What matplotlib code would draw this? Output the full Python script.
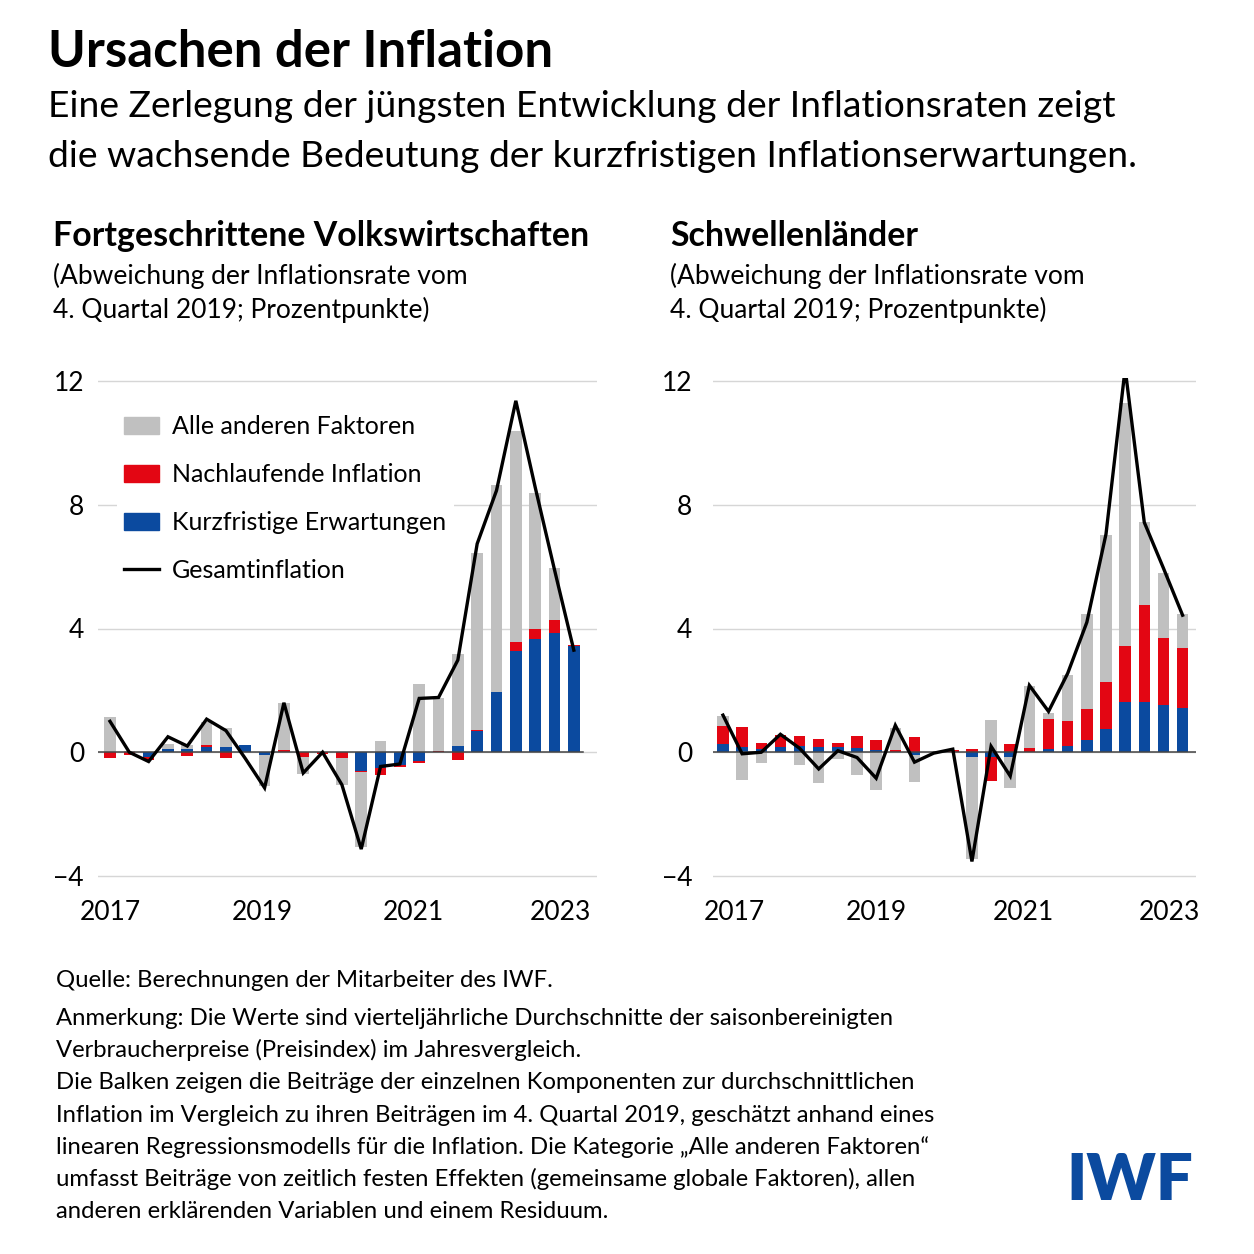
import numpy as np
import matplotlib.pyplot as plt
from matplotlib.patches import Patch
from matplotlib.lines import Line2D

plt.rcParams["font.family"] = ["Lato", "DejaVu Sans"]
plt.rcParams["axes.unicode_minus"] = True

# Quartale 2017Q1 .. 2023Q1
quarters = np.arange(25)
year_labels = ["2017", "2019", "2021", "2023"]
year_ticks_adv = [0.0, 7.9, 15.7, 23.3]
year_ticks_em = [0.6, 8.0, 15.7, 23.3]
y_ticks = [-4, 0, 4, 8, 12]

# Fortgeschrittene Volkswirtschaften
adv_other = [1.15, 0.05, 0.0, 0.15, 0.1, 0.74, 0.62, 0.0, -1.0, 1.5, -0.55, 0.0, -0.85,
             -2.4, 0.35, 0.0, 2.2, 1.7, 2.96, 5.73, 6.7, 6.85, 4.41, 1.69, 0.0]
adv_lagged = [-0.2, -0.1, -0.1, 0.0, -0.12, 0.05, -0.2, 0.0, 0.0, 0.08, -0.14, -0.05, -0.2,
              -0.05, -0.25, -0.09, -0.07, 0.04, -0.25, 0.03, 0.0, 0.27, 0.31, 0.43, 0.04]
adv_expect = [0.0, 0.0, -0.15, 0.12, 0.12, 0.18, 0.18, 0.22, -0.1, 0.0, 0.0, 0.0, 0.0,
              -0.6, -0.5, -0.4, -0.28, 0.0, 0.21, 0.69, 1.94, 3.28, 3.66, 3.84, 3.44]
adv_headline = [1.0, 0.0, -0.3, 0.5, 0.2, 1.07, 0.7, -0.2, -1.15, 1.6, -0.67, 0.0, -1.05,
                -3.13, -0.46, -0.38, 1.74, 1.77, 2.98, 6.74, 8.46, 11.36, 8.57, 5.9, 3.3]

# Schwellenländer
em_other = [0.33, -0.91, -0.35, 0.0, -0.4, -1.0, -0.21, -0.73, -1.23, 0.7, -0.86, 0.0, 0.0,
            -3.3, 1.04, -1.0, 2.0, 0.19, 1.47, 3.07, 4.75, 7.86, 2.68, 2.1, 1.1]
em_lagged = [0.58, 0.64, 0.2, 0.4, 0.32, 0.27, 0.15, 0.38, 0.32, 0.08, 0.5, 0.0, 0.07,
             0.1, -0.8, 0.27, 0.15, 0.95, 0.81, 0.99, 1.52, 1.83, 3.14, 2.17, 1.93]
em_expect = [0.27, 0.18, 0.1, 0.16, 0.2, 0.16, 0.16, 0.15, 0.08, 0.0, -0.1, 0.0, 0.0,
             -0.14, -0.14, -0.14, 0.0, 0.12, 0.21, 0.41, 0.76, 1.61, 1.61, 1.53, 1.43]
em_headline = [1.2, -0.05, 0.0, 0.58, 0.13, -0.54, 0.05, -0.17, -0.84, 0.87, -0.32, -0.03, 0.1,
               -3.53, 0.19, -0.77, 2.16, 1.32, 2.55, 4.2, 7.05, 12.4, 7.43, 5.95, 4.43]

BLUE = "#0b4a9f"
RED = "#e30613"
GRAY = "#c0c0c0"

W, H = 1254, 1254
fig = plt.figure(figsize=(W / 100, H / 100), dpi=100)


def px(x, y):
    return x / W, 1 - y / H


def draw_panel(ax, other, lagged, expect, headline, ticks, xlim, pad_y, zero_end):
    # gestapelte Balken, positiv und negativ getrennt (von null nach aussen: blau, rot, grau)
    pos = np.zeros(len(quarters))
    neg = np.zeros(len(quarters))
    for vals, col in [(expect, BLUE), (lagged, RED), (other, GRAY)]:
        vals = np.asarray(vals, dtype=float)
        bottom = np.where(vals >= 0, pos, neg)
        ax.bar(quarters, vals, 0.6, bottom=bottom, color=col, linewidth=0, zorder=2)
        pos += np.clip(vals, 0, None)
        neg += np.clip(vals, None, 0)
    ax.axhline(0, xmax=zero_end, color="#444444", lw=1.1, zorder=3)
    ax.plot(quarters, headline, color="black", lw=2.4, zorder=4, solid_joinstyle="miter")

    ax.set_xlim(*xlim)
    ax.set_ylim(-4.1, 12.1)
    ax.set_yticks(y_ticks)
    ax.set_yticklabels([f"{t}".replace("-", "\u2212") for t in y_ticks])
    ax.set_xticks(ticks)
    ax.set_xticklabels(year_labels)
    ax.tick_params(axis="both", length=0, labelsize=19)
    ax.tick_params(axis="y", pad=pad_y)
    ax.tick_params(axis="x", pad=15)
    ax.yaxis.grid(True, color="#d6d6d6", lw=1.0, zorder=0)
    ax.set_axisbelow(True)
    for s in ax.spines.values():
        s.set_visible(False)


ax_h = 495 + 2 * 0.1 * 495 / 16
ax_b = 1 - (876 + 0.1 * 495 / 16) / H
ax1 = fig.add_axes([98 / W, ax_b, 499 / W, ax_h / H])
ax2 = fig.add_axes([713 / W, ax_b, 483 / W, ax_h / H])

draw_panel(ax1, adv_other, adv_lagged, adv_expect, adv_headline,
           year_ticks_adv, (-0.62, 25.2), 10, 0.972)
draw_panel(ax2, em_other, em_lagged, em_expect, em_headline,
           year_ticks_em, (-0.52, 24.7), 15, 1.0)

handles = [Patch(color=GRAY), Patch(color=RED), Patch(color=BLUE),
           Line2D([], [], color="black", lw=2.4)]
labels = ["Alle anderen Faktoren", "Nachlaufende Inflation",
          "Kurzfristige Erwartungen", "Gesamtinflation"]
leg = ax1.legend(handles, labels, loc="upper left", bbox_to_anchor=(0.038, 0.941),
                 fontsize=18, frameon=True, facecolor="white", edgecolor="none",
                 framealpha=1, fancybox=False, borderpad=0.3, borderaxespad=0,
                 handlelength=1.4, handleheight=0.65, handletextpad=0.5,
                 labelspacing=1.0)
leg.set_zorder(5)

# Texte
fig.text(*px(48, 67), "Ursachen der Inflation", fontsize=36.7, fontweight="bold",
         va="baseline", ha="left")
fig.text(*px(48, 117), "Eine Zerlegung der jüngsten Entwicklung der Inflationsraten zeigt",
         fontsize=26.8, va="baseline", ha="left")
fig.text(*px(48, 167), "die wachsende Bedeutung der kurzfristigen Inflationserwartungen.",
         fontsize=26.8, va="baseline", ha="left")

for x0, name in [(53, "Fortgeschrittene Volkswirtschaften"), (670, "Schwellenländer")]:
    fig.text(*px(x0, 246), name, fontsize=24.4, fontweight="bold", va="baseline", ha="left")
    fig.text(*px(x0, 284), "(Abweichung der Inflationsrate vom", fontsize=19,
             va="baseline", ha="left")
    fig.text(*px(x0, 318), "4. Quartal 2019; Prozentpunkte)", fontsize=19,
             va="baseline", ha="left")

notes = [
    (987, "Quelle: Berechnungen der Mitarbeiter des IWF."),
    (1025, "Anmerkung: Die Werte sind vierteljährliche Durchschnitte der saisonbereinigten"),
    (1057, "Verbraucherpreise (Preisindex) im Jahresvergleich."),
    (1089, "Die Balken zeigen die Beiträge der einzelnen Komponenten zur durchschnittlichen"),
    (1122, "Inflation im Vergleich zu ihren Beiträgen im 4. Quartal 2019, geschätzt anhand eines"),
    (1154, "linearen Regressionsmodells für die Inflation. Die Kategorie \u201eAlle anderen Faktoren\u201c"),
    (1186, "umfasst Beiträge von zeitlich festen Effekten (gemeinsame globale Faktoren), allen"),
    (1218, "anderen erklärenden Variablen und einem Residuum."),
]
for yb, line in notes:
    fig.text(*px(56, yb), line, fontsize=17.2, va="baseline", ha="left")

fig.text(*px(1193, 1200), "IWF", fontsize=47, fontweight="heavy", color=BLUE,
         va="baseline", ha="right")

fig.savefig("out.png", dpi=100, facecolor="white")
